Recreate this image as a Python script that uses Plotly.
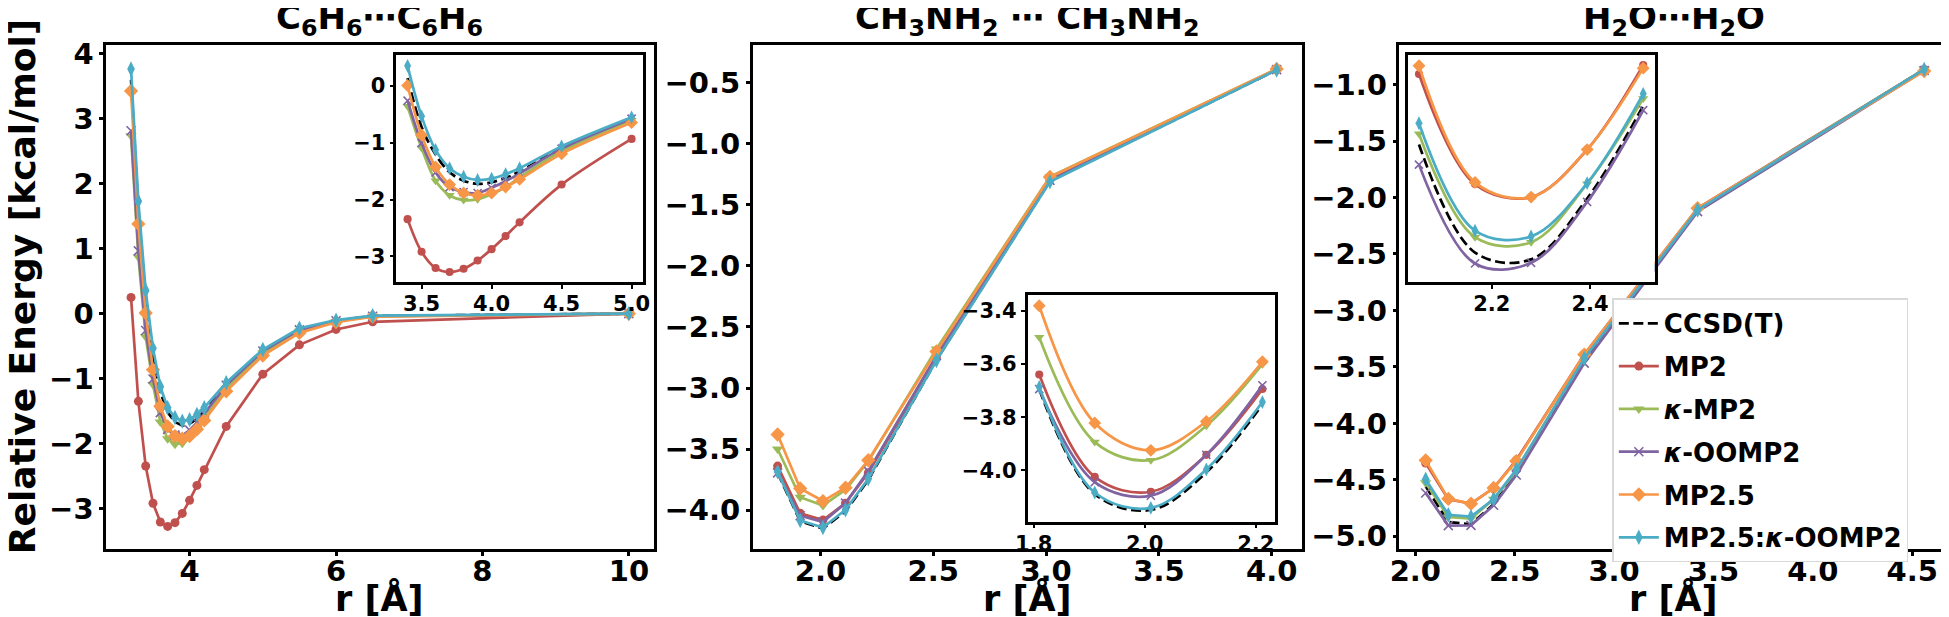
import plotly.graph_objects as go

W, H = 1949, 617

# ---------------- data ----------------
methods = ["CCSD(T)", "MP2", "<i>κ</i>-MP2", "<i>κ</i>-OOMP2", "MP2.5", "MP2.5:<i>κ</i>-OOMP2"]

# Benzene dimer
r_bz = [3.2, 3.3, 3.4, 3.5, 3.6, 3.7, 3.8, 3.9, 4.0, 4.1, 4.2, 4.5, 5.0, 5.5, 6.0, 6.5, 10.0]
bz_ccsdt = [3.60, 1.58, 0.14, -0.72, -1.207, -1.52, -1.667, -1.724, -1.695, -1.62, -1.506, -1.10, -0.575, -0.24, -0.11, -0.035, 0.0]
bz_mp2 = [0.25, -1.35, -2.345, -2.92, -3.207, -3.276, -3.218, -3.075, -2.874, -2.644, -2.402, -1.736, -0.931, -0.48, -0.243, -0.125, 0.0]
bz_kmp2 = [2.74, 0.872, -0.356, -1.09, -1.667, -1.925, -2.01, -1.994, -1.908, -1.78, -1.609, -1.149, -0.603, -0.27, -0.12, -0.04, 0.0]
bz_koomp2 = [2.817, 0.967, -0.259, -1.006, -1.523, -1.782, -1.868, -1.885, -1.793, -1.678, -1.54, -1.103, -0.575, -0.25, -0.11, -0.04, 0.0]
bz_mp25 = [3.428, 1.382, 0.01, -0.862, -1.425, -1.736, -1.885, -1.925, -1.885, -1.78, -1.644, -1.195, -0.644, -0.297, -0.13, -0.047, 0.0]
bz_mp25k = [3.766, 1.732, 0.356, -0.534, -1.126, -1.448, -1.598, -1.655, -1.632, -1.552, -1.448, -1.063, -0.552, -0.225, -0.10, -0.03, 0.0]

# Methylamine dimer
r_ma = [1.810, 1.910, 2.011, 2.111, 2.212, 2.514, 3.017, 4.022]
ma_ccsdt = [-3.695, -4.090, -4.150, -4.008, -3.752, -2.770, -1.305, -0.395]
ma_mp2 = [-3.639, -4.025, -4.081, -3.942, -3.694, -2.745, -1.295, -0.392]
ma_kmp2 = [-3.499, -3.894, -3.962, -3.832, -3.600, -2.680, -1.270, -0.388]
ma_koomp2 = [-3.694, -4.045, -4.096, -3.942, -3.680, -2.735, -1.300, -0.393]
ma_mp25 = [-3.380, -3.822, -3.925, -3.816, -3.591, -2.700, -1.272, -0.388]
ma_mp25k = [-3.686, -4.084, -4.142, -3.997, -3.743, -2.775, -1.312, -0.396]

# Water dimer
r_w = [2.052, 2.166, 2.280, 2.394, 2.508, 2.850, 3.420, 4.560]
w_ccsdt = [-4.557, -4.873, -4.893, -4.715, -4.444, -3.440, -2.115, -0.865]
w_mp2 = [-4.351, -4.673, -4.711, -4.572, -4.325, -3.390, -2.095, -0.865]
w_kmp2 = [-4.526, -4.828, -4.843, -4.672, -4.423, -3.410, -2.105, -0.865]
w_koomp2 = [-4.616, -4.905, -4.903, -4.725, -4.457, -3.466, -2.125, -0.875]
w_mp25 = [-4.327, -4.668, -4.711, -4.572, -4.334, -3.391, -2.095, -0.880]
w_mp25k = [-4.495, -4.809, -4.826, -4.670, -4.409, -3.425, -2.110, -0.865]

titles = ["C<sub>6</sub>H<sub>6</sub>⋯C<sub>6</sub>H<sub>6</sub>",
          "CH<sub>3</sub>NH<sub>2</sub> ⋯ CH<sub>3</sub>NH<sub>2</sub>",
          "H<sub>2</sub>O⋯H<sub>2</sub>O"]

# ---------------- styles ----------------
colors = ["black", "#C0504D", "#9BBB59", "#8064A2", "#F79646", "#4BACC6"]
symbols = [None, "circle", "triangle-down", "x-thin", "diamond", "diamond-tall"]
msizes = [0, 9, 10, 9, 11, 11]
FONT = "DejaVu Sans"
LW = 2.7
TICK = 29
INSET_TICK = 21
LABEL = 35
TITLE = 34
LEG = 26

def fnt(size, color="black"):
    return dict(family=FONT, size=size, color=color, weight="bold")

panels = [(87, 640, 30, 544), (740, 1295, 30, 544), (1393, 1947, 30, 544)]
insets = [[0.53, 0.53, 0.45, 0.45], [0.50, 0.055, 0.45, 0.45], [0.015, 0.53, 0.45, 0.45]]

fig = go.Figure()

datasets = [
    (r_bz, [bz_ccsdt, bz_mp2, bz_kmp2, bz_koomp2, bz_mp25, bz_mp25k]),
    (r_ma, [ma_ccsdt, ma_mp2, ma_kmp2, ma_koomp2, ma_mp25, ma_mp25k]),
    (r_w, [w_ccsdt, w_mp2, w_kmp2, w_koomp2, w_mp25, w_mp25k]),
]
inset_x_lims = [(3.4, 5.0), (1.8, 2.25), (2.0, 2.55)]


def add_trace(x, y, k, xa, ya, spline, showlegend, msize_scale=1.0):
    extra = dict(legendgroup=f"g{k}") if showlegend else {}
    if k == 0:
        fig.add_trace(go.Scatter(
            x=x, y=y, mode="lines", name=methods[k], xaxis=xa, yaxis=ya,
            line=dict(color=colors[k], width=LW, dash="10px,4.5px",
                      shape="spline" if spline else "linear"),
            showlegend=showlegend, **extra))
    else:
        mk = dict(symbol=symbols[k], size=msizes[k] * msize_scale, color=colors[k])
        if symbols[k] == "x-thin":
            mk["line"] = dict(color=colors[k], width=1.6)
        else:
            mk["line"] = dict(width=0)
        fig.add_trace(go.Scatter(
            x=x, y=y, mode="lines+markers", name=methods[k], xaxis=xa, yaxis=ya,
            line=dict(color=colors[k], width=LW, shape="spline" if spline else "linear"),
            marker=mk, showlegend=showlegend, **extra))

# main panels
for p, (rx, series) in enumerate(datasets):
    xa = "x" if p == 0 else f"x{p+1}"
    ya = "y" if p == 0 else f"y{p+1}"
    for k, s in enumerate(series):
        add_trace(rx, s, k, xa, ya, False, p == 2)

# insets
for p, (rx, series) in enumerate(datasets):
    xa = f"x{p+4}"
    ya = f"y{p+4}"
    lo, hi = inset_x_lims[p]
    idx = [i for i, v in enumerate(rx) if lo - 1e-9 <= v <= hi + 1e-9]
    for k, s in enumerate(series):
        add_trace([rx[i] for i in idx], [s[i] for i in idx], k, xa, ya, True, False, 0.9)

axis_common = dict(showgrid=False, zeroline=False, showline=True, linecolor="black",
                   linewidth=2.5, mirror=True, ticks="outside", ticklen=4, tickwidth=2.5,
                   tickcolor="black", tickfont=fnt(TICK))

main_x = [dict(range=[2.86, 10.34], tickvals=[4, 6, 8, 10], tickformat="d"),
          dict(range=[1.700, 4.136], tickvals=[2.0, 2.5, 3.0, 3.5, 4.0], tickformat=".1f"),
          dict(range=[1.920, 4.680], tickvals=[2.0, 2.5, 3.0, 3.5, 4.0, 4.5], tickformat=".1f")]
main_y = [dict(range=[-3.63, 4.13], tickvals=[-3, -2, -1, 0, 1, 2, 3, 4], tickformat="d"),
          dict(range=[-4.321, -0.195], tickvals=[-4.0, -3.5, -3.0, -2.5, -2.0, -1.5, -1.0, -0.5], tickformat=".1f"),
          dict(range=[-5.116, -0.653], tickvals=[-5.0, -4.5, -4.0, -3.5, -3.0, -2.5, -2.0, -1.5, -1.0], tickformat=".1f")]

ins_x = [dict(range=[3.32, 5.08], tickvals=[3.5, 4.0, 4.5, 5.0], tickformat=".1f"),
         dict(range=[1.789, 2.2345], tickvals=[1.8, 2.0, 2.2], tickformat=".1f"),
         dict(range=[2.029, 2.531], tickvals=[2.2, 2.4], tickformat=".1f")]
ins_y = [dict(range=[-3.458, 0.538], tickvals=[-3, -2, -1, 0], tickformat="d"),
         dict(range=[-4.194, -3.339], tickvals=[-4.0, -3.8, -3.6, -3.4], tickformat=".1f"),
         dict(range=[-4.96, -4.297], showticklabels=False, ticks="")]

layout = dict(width=W, height=H, margin=dict(l=0, r=0, t=0, b=0),
              paper_bgcolor="white", plot_bgcolor="white", showlegend=True)

for p, (l, r, t, b) in enumerate(panels):
    sx = "" if p == 0 else str(p + 1)
    xd = [l / W, r / W]
    yd = [1 - b / H, 1 - t / H]
    ax = dict(axis_common); ax.update(main_x[p]); ax.update(domain=xd, anchor="y" + sx, ticklabelstandoff=-10)
    ay = dict(axis_common); ay.update(main_y[p]); ay.update(domain=yd, anchor="x" + sx)
    layout["xaxis" + sx] = ax
    layout["yaxis" + sx] = ay
    # inset
    fx, fy, fw, fh = insets[p]
    il = l + fx * (r - l)
    ir = il + fw * (r - l)
    ib = b - fy * (b - t)
    it = ib - fh * (b - t)
    si = str(p + 4)
    ix = dict(axis_common); ix.update(tickfont=fnt(INSET_TICK), ticklen=4, tickwidth=2, ticklabelstandoff=-3)
    ix.update(ins_x[p]); ix.update(domain=[il / W, ir / W], anchor="y" + si)
    iy = dict(axis_common); iy.update(tickfont=fnt(INSET_TICK), ticklen=4, tickwidth=2)
    iy.update(ins_y[p]); iy.update(domain=[1 - ib / H, 1 - it / H], anchor="x" + si)
    layout["xaxis" + si] = ix
    layout["yaxis" + si] = iy

annotations = []
for p, (l, r, t, b) in enumerate(panels):
    cx = (l + r) / 2 / W
    annotations.append(dict(text=titles[p], x=cx, y=1 - 29 / H, xref="paper", yref="paper",
                            xanchor="center", yanchor="bottom", showarrow=False, font=fnt(TITLE)))
    annotations.append(dict(text="r [Å]", x=cx, y=1 - 594 / H, xref="paper", yref="paper",
                            xanchor="center", yanchor="middle", showarrow=False, font=fnt(LABEL)))
annotations.append(dict(text="Relative Energy [kcal/mol]", x=0, y=1 - 276 / H,
                        xref="paper", yref="paper", xanchor="left", yanchor="middle",
                        xshift=-20, textangle=-90, showarrow=False, font=fnt(LABEL + 1)))
layout["annotations"] = annotations

layout["legend"] = dict(x=1608 / W, y=1 - 288 / H, xanchor="left", yanchor="top",
                        bgcolor="white", bordercolor="#d9d9d9", borderwidth=1.5,
                        font=fnt(LEG), itemwidth=40, tracegroupgap=6,
                        traceorder="grouped")

fig.update_layout(**layout)
fig.write_html("out.html")
